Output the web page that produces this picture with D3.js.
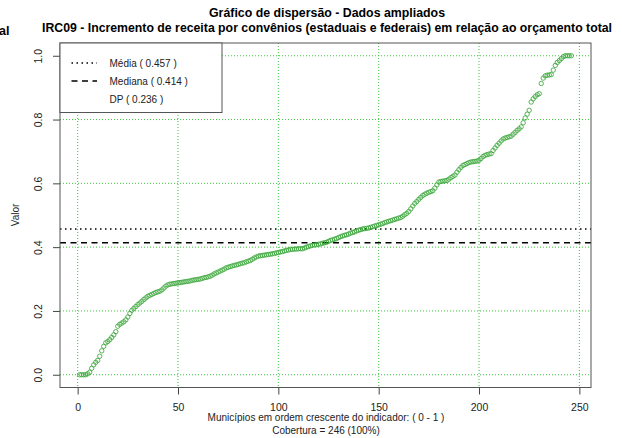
<!DOCTYPE html>
<html><head><meta charset="utf-8">
<script src="https://cdn.jsdelivr.net/npm/d3@7"></script>
<style>body{margin:0;background:#fff}svg{display:block;font-family:"Liberation Sans",Arial,sans-serif}</style>
</head><body><svg id="c" width="622" height="438"></svg>
<script>
const values = [
0,0,0,0,0.003,0.008,0.02,0.031,0.039,0.045,
0.058,0.075,0.089,0.1,0.104,0.11,0.117,0.125,0.135,0.152,
0.158,0.162,0.166,0.172,0.181,0.192,0.202,0.208,0.214,0.22,
0.225,0.23,0.236,0.241,0.246,0.249,0.252,0.255,0.258,0.26,
0.262,0.266,0.272,0.278,0.282,0.284,0.285,0.286,0.287,0.288,
0.289,0.29,0.291,0.292,0.293,0.294,0.296,0.297,
0.298,0.299,0.3,0.302,0.304,0.305,0.307,0.309,
0.312,0.316,0.319,0.322,0.325,0.328,0.331,0.335,
0.337,0.339,0.341,0.343,0.344,0.346,0.348,0.35,0.351,
0.354,0.356,0.358,0.362,0.366,0.369,0.372,
0.373,0.374,0.375,0.376,0.377,0.378,0.379,0.38,0.382,0.383,0.385,
0.386,0.388,0.39,0.391,0.393,0.393,0.394,0.394,0.395,0.395,0.395,
0.397,0.4,0.402,0.404,0.406,0.407,0.408,0.409,0.41,0.412,0.414,0.415,
0.418,0.421,0.423,0.425,0.427,0.43,0.433,
0.435,0.437,0.439,0.441,0.444,0.446,0.448,0.451,
0.453,0.455,0.457,0.458,0.459,0.46,0.462,0.464,0.466,
0.468,0.47,0.472,0.474,0.477,0.479,
0.481,0.483,0.485,0.487,0.489,0.491,0.493,
0.497,0.502,0.506,0.512,0.52,0.529,
0.537,0.543,0.55,0.556,
0.562,0.566,0.569,0.572,0.574,0.577,
0.585,0.595,0.604,
0.606,0.607,0.608,0.609,
0.613,0.618,0.622,0.626,
0.635,0.643,0.65,0.656,
0.659,0.662,0.665,0.667,
0.668,0.669,0.67,0.672,
0.678,0.684,0.688,0.69,0.692,0.693,
0.703,0.711,0.719,0.726,0.733,0.739,
0.742,0.744,0.746,0.748,
0.754,0.76,0.766,0.771,0.777,
0.79,0.805,0.817,0.829,0.855,
0.865,0.872,0.878,0.881,
0.913,
0.93,0.937,0.939,0.94,0.941,
0.955,0.97,0.979,0.985,0.991,
0.997,1,1,1,1
];
const xTicks = [0,50,100,150,200,250];
const yTicks = [0,0.2,0.4,0.6,0.8,1.0];
const mean = 0.457, median = 0.414, sd = 0.236;
const title = "Gráfico de dispersão - Dados ampliados";
const subtitle = "IRC09 - Incremento de receita por convênios (estaduais e federais) em relação ao orçamento total";
const xLabel = "Municípios em ordem crescente do indicador: ( 0 - 1 )";
const coverage = "Cobertura = 246 (100%)";
const legendItems = [
  {label:"Média ( 0.457 )", dash:"1.5,3.5"},
  {label:"Mediana ( 0.414 )", dash:"6,4.5"},
  {label:"DP ( 0.236 )", dash:null}
];

const svg = d3.select("#c");
const L=60,R=591,T=43,B=387.5;
const n = values.length;
const xr=[1,n], xp=(xr[1]-xr[0])*0.04;
const x = d3.scaleLinear().domain([xr[0]-xp, xr[1]+xp]).range([L,R]);
const y = d3.scaleLinear().domain([-0.04,1.04]).range([B,T]);

const gridC="#3ec43e";
svg.append("g").selectAll("line").data(xTicks).join("line")
  .attr("x1",d=>x(d)).attr("x2",d=>x(d)).attr("y1",T).attr("y2",B)
  .attr("stroke",gridC).attr("stroke-dasharray","1,2").attr("stroke-width",1);
svg.append("g").selectAll("line").data(yTicks).join("line")
  .attr("x1",L).attr("x2",R).attr("y1",d=>y(d)).attr("y2",d=>y(d))
  .attr("stroke",gridC).attr("stroke-dasharray","1,2").attr("stroke-width",1);

svg.append("line").attr("x1",L).attr("x2",R).attr("y1",y(mean)).attr("y2",y(mean))
  .attr("stroke","#000").attr("stroke-width",1.5).attr("stroke-dasharray","1.5,3.5");
svg.append("line").attr("x1",L).attr("x2",R).attr("y1",y(median)).attr("y2",y(median))
  .attr("stroke","#000").attr("stroke-width",1.5).attr("stroke-dasharray","6,4.5");

svg.append("g").selectAll("circle").data(values).join("circle")
  .attr("cx",(d,i)=>x(i+1)).attr("cy",d=>y(d)).attr("r",2.2)
  .attr("fill","none").attr("stroke","#3aa63a").attr("stroke-width",0.85);

const xAxis = d3.axisBottom(x).tickValues(xTicks).tickSize(7).tickFormat(d3.format("d"));
const gx = svg.append("g").attr("transform",`translate(0,${B})`).call(xAxis);
gx.select(".domain").remove();
gx.selectAll(".tick text").attr("y",23).attr("dy",0);
const yAxis = d3.axisLeft(y).tickValues(yTicks).tickSize(7).tickFormat(d3.format(".1f"));
const gy = svg.append("g").attr("transform",`translate(${L},0)`).call(yAxis);
gy.select(".domain").remove();
[gx,gy].forEach(g=>{
  g.selectAll("line").attr("stroke","#444");
  g.selectAll("text").attr("font-size",10.5).attr("fill","#222").attr("font-family","Liberation Sans, Arial, sans-serif");
});
gy.selectAll(".tick text").attr("transform","rotate(-90)")
  .attr("x",0).attr("y",-18).attr("dy","0").attr("text-anchor","middle");

svg.append("rect").attr("x",L).attr("y",T).attr("width",R-L).attr("height",B-T)
  .attr("fill","none").attr("stroke","#555").attr("stroke-width",1);

const lg = svg.append("g");
lg.append("rect").attr("x",L).attr("y",T).attr("width",162).attr("height",69.5)
  .attr("fill","#fff").attr("stroke","#555");
legendItems.forEach((it,i)=>{
  const yy = T+20+i*18;
  if(it.dash) lg.append("line").attr("x1",71.5).attr("x2",97).attr("y1",yy).attr("y2",yy)
     .attr("stroke","#000").attr("stroke-width",1.5).attr("stroke-dasharray",it.dash);
  lg.append("text").attr("x",109.5).attr("y",yy+3.8).attr("font-size",10).attr("fill","#222").text(it.label);
});

svg.append("text").attr("x",327).attr("y",17).attr("text-anchor","middle")
  .attr("font-weight","bold").attr("font-size",12.5)
  .attr("textLength",236).attr("lengthAdjust","spacingAndGlyphs").text(title);
svg.append("text").attr("x",327).attr("y",32).attr("text-anchor","middle")
  .attr("font-weight","bold").attr("font-size",12.5)
  .attr("textLength",570).attr("lengthAdjust","spacingAndGlyphs").text(subtitle);
svg.append("text").attr("x",-1).attr("y",35).attr("font-weight","bold").attr("font-size",12.5).text("al");

svg.append("text").attr("transform","translate(19,215) rotate(-90)").attr("text-anchor","middle")
  .attr("font-size",10).attr("fill","#222").text("Valor");
svg.append("text").attr("x",326).attr("y",421).attr("text-anchor","middle").attr("font-size",10).attr("fill","#222").text(xLabel);
svg.append("text").attr("x",326).attr("y",434).attr("text-anchor","middle").attr("font-size",10).attr("fill","#222").text(coverage);
</script></body></html>
